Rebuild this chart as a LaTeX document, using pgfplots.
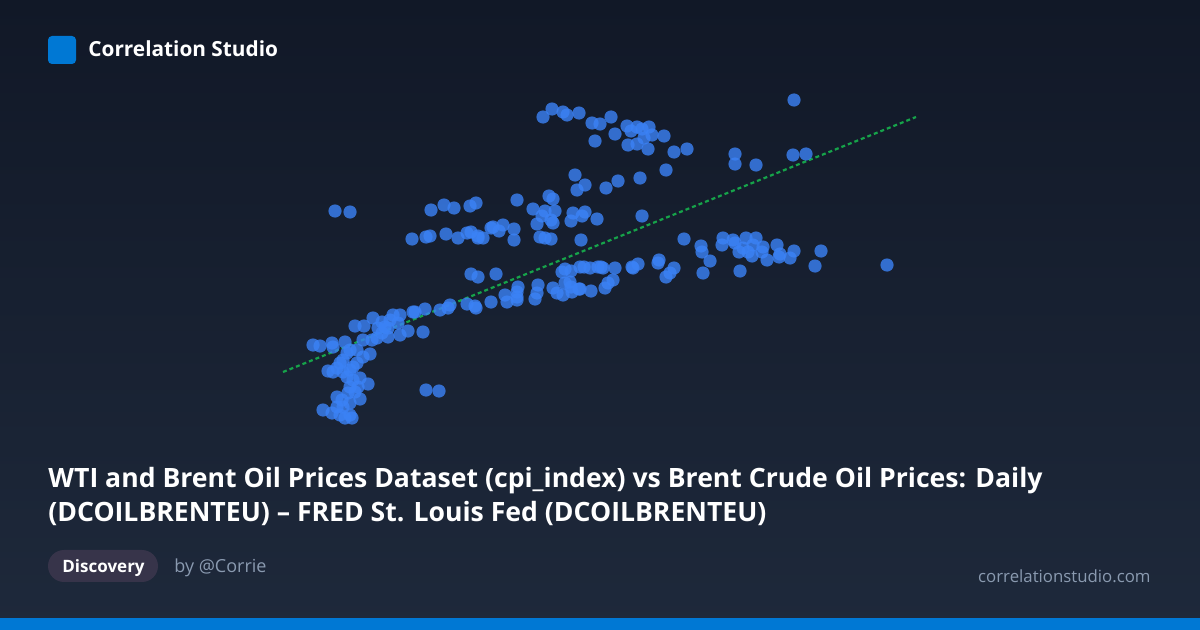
\documentclass[border=0pt]{standalone}
\usepackage{pgfplots}
\pgfplotsset{compat=1.18}
\usepackage{pgfplotstable}
\usepackage{fontspec}
\setmainfont{Open Sans}

\definecolor{bgtop}{HTML}{111827}
\definecolor{bgbot}{HTML}{1E293B}
\definecolor{brand}{HTML}{0078D4}
\definecolor{dot}{HTML}{3B82F6}
\definecolor{trend}{HTML}{16A34A}
\definecolor{muted}{HTML}{8A9AB0}
\definecolor{pill}{HTML}{37344A}

% scatter points, in card pixels (x right, y down)
\pgfplotstableread{
x y
543 117
552 109
563 112
567 115
579 113
592 123
600 124
611 117
595 141
615 134
627 126
631 131
637 127
642 129
649 127
652 135
644 138
628 145
637 144
648 149
664 136
674 152
687 149
794 100
735 154
735 164
756 165
793 155
806 154
575 175
577 190
585 185
606 188
618 181
640 178
666 170
335 211
350 212
431 210
444 205
454 208
470 206
476 203
517 200
533 209
549 196
553 199
545 211
555 211
542 216
551 220
553 223
537 224
573 213
585 212
582 216
571 221
597 219
642 216
412 239
426 237
430 236
446 234
458 238
467 233
471 232
478 236
483 238
478 238
491 228
493 227
499 231
503 225
514 229
514 240
540 237
545 238
551 239
581 240
684 239
701 246
702 252
710 261
703 273
723 238
722 245
733 240
735 243
746 238
756 238
739 252
743 248
748 252
752 256
753 245
763 247
762 252
777 245
767 260
780 254
779 257
790 258
794 251
821 251
815 266
740 271
887 265
659 260
580 267
590 268
601 267
603 268
615 268
632 267
638 264
633 268
658 263
674 268
670 273
666 277
580 289
591 291
605 288
608 283
613 280
471 274
478 277
496 274
562 272
565 269
571 271
584 267
598 267
518 287
517 292
538 285
565 283
570 282
571 287
553 288
557 293
563 295
579 289
572 292
505 295
507 302
517 300
517 297
535 299
537 293
491 302
467 304
475 306
476 308
450 305
448 308
440 310
425 309
413 312
415 312
355 326
364 326
373 318
382 322
378 328
385 327
390 320
393 315
400 315
398 323
388 328
382 333
377 338
372 340
388 337
400 335
408 331
423 332
363 340
345 342
313 345
320 346
332 343
333 347
350 350
357 350
370 354
363 357
347 353
343 360
340 363
337 368
328 371
333 372
343 372
350 370
353 367
357 363
347 377
353 380
360 378
368 384
350 387
358 387
355 392
348 393
337 397
342 400
360 399
350 403
343 407
337 407
323 410
332 413
340 415
350 415
352 418
345 418
426 390
439 391
}\points

\begin{document}
\begin{tikzpicture}[x=0.5pt,y=-0.5pt]
\shade[top color=bgtop,bottom color=bgbot] (0,0) rectangle (1200,630);

\begin{axis}[
    at={(0pt,-315pt)}, anchor=south west,
    width=600pt, height=315pt, scale only axis,
    hide axis, clip=false,
    xmin=0, xmax=1200, ymin=0, ymax=630,
    y dir=reverse,
]
\addplot[trend, line width=1.1pt, dash pattern=on 2pt off 1.5pt] coordinates {(283,372) (916,117)};
\addplot[only marks, mark=*, mark size=3.3pt, color=dot,
    fill opacity=0.8, draw opacity=0] table {\points};
\end{axis}

% header
\fill[brand, rounded corners=2pt] (48,36) rectangle (76,64);
\node[anchor=base west, inner sep=0, text=white,
    font=\bfseries\fontsize{10.4}{12}\selectfont] at (88,57) {Correlation Studio};

% title
\node[anchor=base west, inner sep=0, text=white,
    font=\bfseries\fontsize{13.3}{16}\selectfont] at (48,488)
    {WTI and Brent Oil Prices Dataset (cpi\_index) vs Brent Crude Oil Prices: Daily};
\node[anchor=base west, inner sep=0, text=white,
    font=\bfseries\fontsize{13.3}{16}\selectfont] at (48,522)
    {(DCOILBRENTEU) – FRED St. Louis Fed (DCOILBRENTEU)};

% footer
\fill[pill, rounded corners=8pt] (48,550) rectangle (158,582);
\node[anchor=base west, inner sep=0, text=white,
    font=\bfseries\fontsize{8.5}{10}\selectfont] at (62,573) {Discovery};
\node[anchor=base west, inner sep=0, text=muted,
    font=\fontsize{9}{11}\selectfont] at (174,573) {by @Corrie};
\node[anchor=base east, inner sep=0, text=muted,
    font=\fontsize{8.4}{10}\selectfont] at (1151,582) {correlationstudio.com};

\fill[brand] (0,618) rectangle (1200,630);
\end{tikzpicture}
\end{document}
